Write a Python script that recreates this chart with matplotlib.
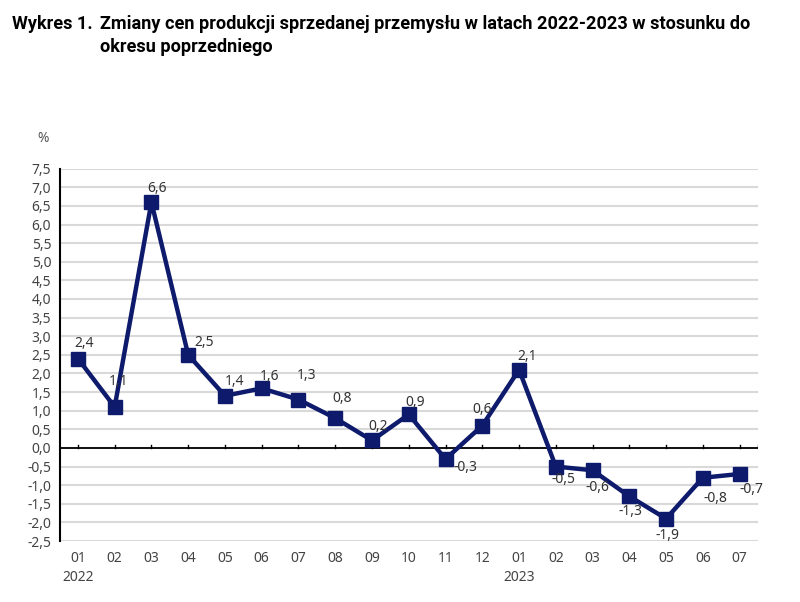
import matplotlib
matplotlib.use("Agg")
import matplotlib.pyplot as plt
from matplotlib.ticker import MultipleLocator, FuncFormatter

# dane (zmiana cen, % m/m)
months = ["01", "02", "03", "04", "05", "06", "07", "08", "09", "10", "11", "12",
          "01", "02", "03", "04", "05", "06", "07"]
years = {0: "2022", 12: "2023"}
values = [2.4, 1.1, 6.6, 2.5, 1.4, 1.6, 1.3, 0.8, 0.2, 0.9, -0.3, 0.6,
          2.1, -0.5, -0.6, -1.3, -1.9, -0.8, -0.7]
# przesunięcia etykiet (px) względem punktu
label_off = [(6, 15), (4, 25), (6, 14), (16, 12), (10, 14), (8, 12), (8, 24),
             (7, 20), (6, 14), (6, 12), (20, -8), (0, 16), (8, 13), (8, -13),
             (5, -17), (1, -15), (1, -17), (13, -21), (12, -16)]

NAVY = "#0e1a6b"
FONT = ["Noto Sans", "DejaVu Sans"]

fig = plt.figure(figsize=(8, 6.02), dpi=100)
ax = fig.add_axes([0.0744, 0.1013, 0.9475 - 0.0744, 0.7198 - 0.1013])

x = list(range(len(values)))
ax.plot(x, values, color=NAVY, lw=3.2, marker="s", ms=10.5, mfc=NAVY, mec=NAVY, zorder=3)

for i, v in enumerate(values):
    dx, dy = label_off[i]
    ax.annotate(f"{v:.1f}".replace(".", ","), (i, v), xytext=(dx, dy),
                textcoords="offset pixels", ha="center", va="center",
                fontsize=10, color="#333333", family=FONT, zorder=4)

ax.set_xlim(-0.5, len(values) - 0.5)
ax.set_ylim(-2.5, 7.5)
ax.yaxis.set_major_locator(MultipleLocator(0.5))
ax.yaxis.set_major_formatter(FuncFormatter(lambda v, p: f"{v:.1f}".replace(".", ",")))
ax.grid(axis="y", color="#d9d9d9", lw=1.5, zorder=0)
ax.axhline(0, color="black", lw=1.3, zorder=2)

# małe kreski na osi zero
for i in x + [len(values) - 0.5]:
    ax.plot([i, i], [0, 0.09], color="black", lw=1.0, zorder=2)

for s in ["top", "right", "bottom"]:
    ax.spines[s].set_visible(False)
ax.spines["left"].set_linewidth(1.5)
ax.tick_params(axis="y", length=0, pad=6, labelsize=10, labelcolor="#444444")
ax.tick_params(axis="x", length=0, pad=7, labelsize=10, labelcolor="#444444")
ax.set_xticks(x)
ax.set_xticklabels(months)
for lab in ax.get_xticklabels() + ax.get_yticklabels():
    lab.set_family(FONT)

for i, yr in years.items():
    ax.annotate(yr, (i, 0), xycoords=("data", "axes fraction"), xytext=(0, -36),
                textcoords="offset pixels", ha="center", va="center",
                fontsize=10, color="#444444", family=FONT)

fig.text(43 / 800, 1 - 139 / 602, "%", ha="center", va="center",
         fontsize=10, color="#555555", family=FONT)

TFONT = ["Roboto", "DejaVu Sans"]
fig.text(12 / 800, 1 - 24 / 602, "Wykres 1.", ha="left", va="center",
         fontsize=13.1, fontweight="bold", family=TFONT)
fig.text(100 / 800, 1 - 24 / 602,
         "Zmiany cen produkcji sprzedanej przemysłu w latach 2022-2023 w stosunku do",
         ha="left", va="center", fontsize=13.1, fontweight="bold", family=TFONT)
fig.text(100 / 800, 1 - 47 / 602, "okresu poprzedniego", ha="left", va="center",
         fontsize=13.1, fontweight="bold", family=TFONT)

fig.savefig("out.png", dpi=100, facecolor="white")
